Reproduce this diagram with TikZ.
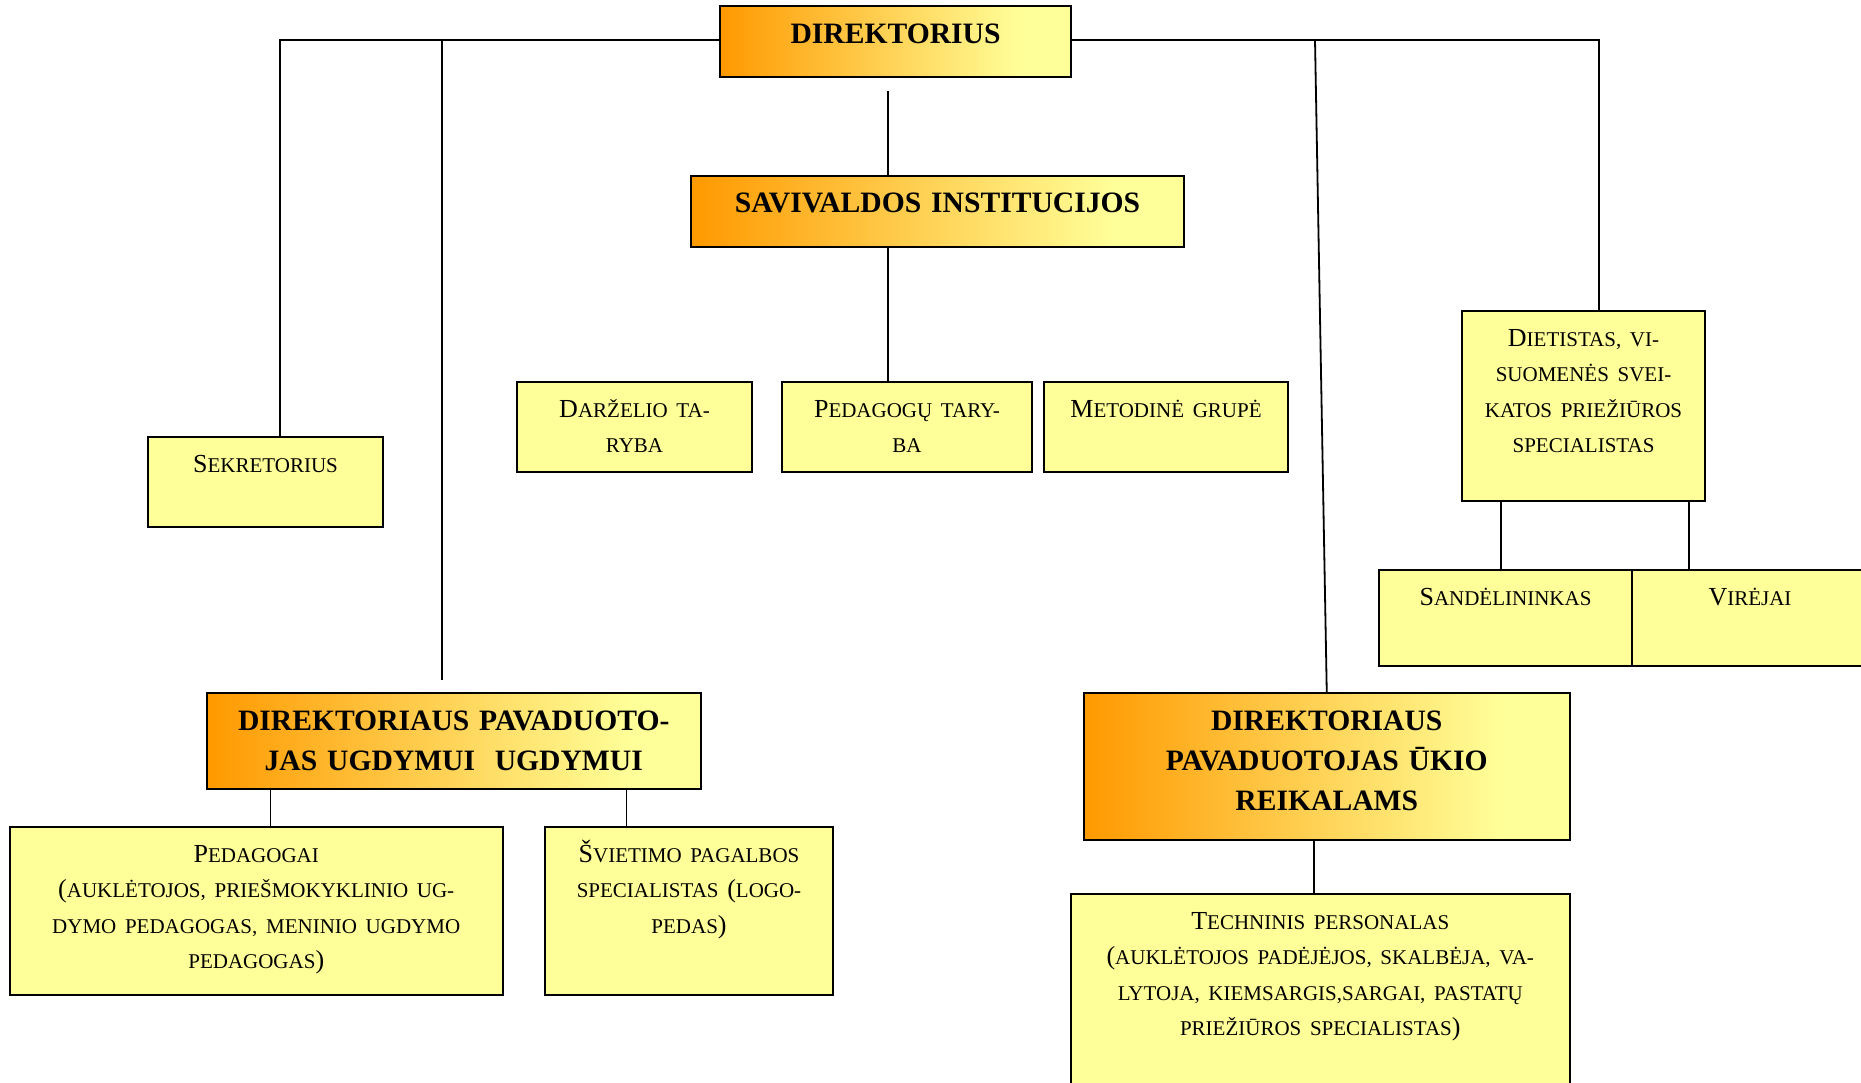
\documentclass[tikz,border=0pt]{standalone}
\usepackage{fontspec}
\setmainfont{Liberation Serif}
\usetikzlibrary{calc}
\definecolor{hdorange}{RGB}{255,153,0}
\definecolor{hdyellow}{RGB}{255,255,153}
\pgfdeclarehorizontalshading{orgyel}{100bp}{color(0bp)=(hdorange); color(25bp)=(hdorange); color(68bp)=(hdyellow); color(100bp)=(hdyellow)}
\newcommand\sm[1]{{\fontsize{10.5}{17.8}\selectfont #1}}
\tikzset{
  headbox/.style={draw=black, line width=1pt, shading=orgyel, inner sep=0pt},
  plainbox/.style={draw=black, line width=1pt, fill=hdyellow, inner sep=0pt},
  headtext/.style={anchor=base, align=center, text width=240pt, inner sep=0pt, font=\fontsize{14.8}{20}\selectfont\bfseries},
  plaintext/.style={anchor=base, align=center, text width=240pt, inner sep=0pt, font=\fontsize{13}{17.8}\selectfont},
  link/.style={line width=0.9pt}
}
\begin{document}
\begin{tikzpicture}[x=0.5pt, y=-0.5pt]
	\useasboundingbox (0,0) rectangle (1861,1082);
	
	%%%%% boxes %%%%%
	\node[headbox, minimum width=175.5pt, minimum height=35.5pt] (dir) at (895.5,41.5) {};
	\node[headbox, minimum width=246.5pt, minimum height=35.5pt] (sav) at (937.5,211.5) {};
	\node[plainbox, minimum width=117.5pt, minimum height=45pt] (darz) at (634.5,427) {};
	\node[plainbox, minimum width=125pt, minimum height=45pt] (pedt) at (907,427) {};
	\node[plainbox, minimum width=122pt, minimum height=45pt] (meto) at (1166,427) {};
	\node[plainbox, minimum width=117.5pt, minimum height=45pt] (sek) at (265.5,482) {};
	\node[plainbox, minimum width=121.5pt, minimum height=95pt] (diet) at (1583.5,406) {};
	\node[plainbox, minimum width=126.5pt, minimum height=48pt] (sand) at (1505.5,618) {};
	\node[plainbox, minimum width=118pt, minimum height=48pt] (vire) at (1750,618) {};
	\node[headbox, minimum width=247.25pt, minimum height=48pt] (dpu) at (453.75,741) {};
	\node[plainbox, minimum width=246.75pt, minimum height=83.75pt] (pedg) at (256.25,910.75) {};
	\node[plainbox, minimum width=144pt, minimum height=83.75pt] (svie) at (689,910.75) {};
	\node[headbox, minimum width=243.25pt, minimum height=73.5pt] (dpk) at (1326.75,766.5) {};
	\node[plainbox, minimum width=249.75pt, minimum height=110pt] (tech) at (1320.25,1004) {};
	
	%%%%% texts %%%%%
	\node[headtext] (dirt) at ($(dir.north)+(0,38)$) {DIREKTORIUS};
	\node[headtext] (savt) at ($(sav.north)+(0,37)$) {SAVIVALDOS INSTITUCIJOS};
	\node[headtext] (dput) at ($(dpu.north)+(0,38)$) {DIREKTORIAUS PAVADUOTO-\\JAS UGDYMUI~~UGDYMUI};
	\node[headtext] (dpkt) at ($(dpk.north)+(0,38)$) {DIREKTORIAUS\\PAVADUOTOJAS ŪKIO\\REIKALAMS};
	\node[plaintext] (darzt) at ($(darz.north)+(0,36)$) {D\sm{ARŽELIO TA-}\\\sm{RYBA}};
	\node[plaintext] (pedtt) at ($(pedt.north)+(0,36)$) {P\sm{EDAGOGŲ TARY-}\\\sm{BA}};
	\node[plaintext] (metot) at ($(meto.north)+(0,36)$) {M\sm{ETODINĖ GRUPĖ}};
	\node[plaintext] (sekt) at ($(sek.north)+(0,36)$) {S\sm{EKRETORIUS}};
	\node[plaintext] (dietst) at ($(diet.north)+(0,36)$) {D\sm{IETISTAS, VI-}\\\sm{SUOMENĖS SVEI-}\\\sm{KATOS PRIEŽIŪROS}\\\sm{SPECIALISTAS}};
	\node[plaintext] (sandt) at ($(sand.north)+(0,36)$) {S\sm{ANDĖLININKAS}};
	\node[plaintext] (viret) at ($(vire.north)+(0,36)$) {V\sm{IRĖJAI}};
	\node[plaintext] (pedgt) at ($(pedg.north)+(0,36)$) {P\sm{EDAGOGAI}\\(\sm{AUKLĖTOJOS, PRIEŠMOKYKLINIO UG-}\\\sm{DYMO PEDAGOGAS, MENINIO UGDYMO}\\\sm{PEDAGOGAS})};
	\node[plaintext] (sviet) at ($(svie.north)+(0,36)$) {Š\sm{VIETIMO PAGALBOS}\\\sm{SPECIALISTAS }(\sm{LOGO-}\\\sm{PEDAS})};
	\node[plaintext] (techt) at ($(tech.north)+(0,36)$) {T\sm{ECHNINIS PERSONALAS}\\(\sm{AUKLĖTOJOS PADĖJĖJOS, SKALBĖJA, VA-}\\\sm{LYTOJA, KIEMSARGIS,SARGAI, PASTATŲ}\\\sm{PRIEŽIŪROS SPECIALISTAS})};
	
	%%%%% links %%%%%
	\coordinate (busL) at (280,40);
	\coordinate (busU) at (442,40);
	\coordinate (busS) at (1315,40);
	\coordinate (busR) at (1599,40);
	\coordinate (stem) at (888,91);
	\draw[link] (dir.west |- busL) -- (busL) -- (busL |- sek.north);
	\draw[link] (busU) -- ($(busU |- dpu.north)+(0,-12)$);
	\draw[link] (dir.east |- busR) -- (busR) -- (busR |- diet.north);
	\draw[link] (busS) -- (dpk.north);
	\draw[link] (stem) -- (stem |- sav.north);
	\draw[link] (stem |- sav.south) -- (stem |- pedt.north);
	\draw[link] ([xshift=-41.25pt]diet.south) -- ([xshift=-41.25pt]diet.south |- sand.north);
	\draw[link] ([xshift=52.75pt]diet.south) -- ([xshift=52.75pt]diet.south |- vire.north);
	\draw[link] ([xshift=-91.6pt]dpu.south) -- ([xshift=-91.6pt]dpu.south |- pedg.north);
	\draw[link] ([xshift=86.4pt]dpu.south) -- ([xshift=86.4pt]dpu.south |- svie.north);
	\draw[link] ([xshift=-6.5pt]dpk.south) -- ([xshift=-6.5pt]dpk.south |- tech.north);
\end{tikzpicture}
\end{document}
